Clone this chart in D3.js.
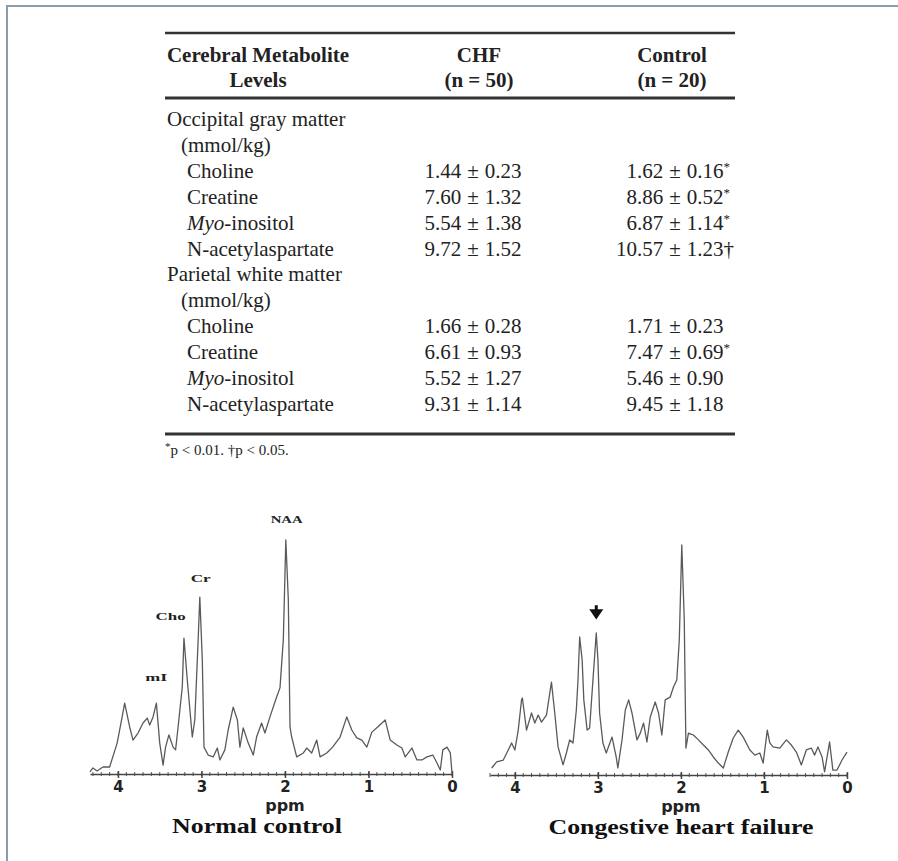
<!DOCTYPE html>
<html>
<head>
<meta charset="utf-8">
<script src="https://cdn.jsdelivr.net/npm/d3@7"></script>
<style>
  html, body { margin: 0; padding: 0; background: #fff; }
  svg { display: block; }
</style>
</head>
<body>
<svg id="chart" width="898" height="861"></svg>
<script>
// ---------------- Table data ----------------
const headLabel = ["Cerebral Metabolite", "Levels"];
const groups = ["CHF", "Control"];
const groupN = ["(n = 50)", "(n = 20)"];
const regions = ["Occipital gray matter", "Parietal white matter"];
const regionUnit = "(mmol/kg)";
const metabolites = ["Choline", "Creatine", "Myo-inositol", "N-acetylaspartate"];

const occChfMean = ["1.44", "7.60", "5.54", "9.72"];
const occChfSD   = ["0.23", "1.32", "1.38", "1.52"];
const occCtlMean = ["1.62", "8.86", "6.87", "10.57"];
const occCtlSD   = ["0.16", "0.52", "1.14", "1.23"];
const occCtlSig  = ["*", "*", "*", "†"];

const parChfMean = ["1.66", "6.61", "5.52", "9.31"];
const parChfSD   = ["0.28", "0.93", "1.27", "1.14"];
const parCtlMean = ["1.71", "7.47", "5.46", "9.45"];
const parCtlSD   = ["0.23", "0.69", "0.90", "1.18"];
const parCtlSig  = ["", "*", "", ""];

const footnote = ["*", "p < 0.01. †p < 0.05."];

// ---------------- Spectra data (ppm, arbitrary intensity) ----------------
const normalPpm = [4.335,4.30,4.25,4.18,4.10,4.01,3.95,3.92,3.86,3.82,3.76,3.70,3.65,3.62,3.58,3.54,3.50,3.46,3.43,3.39,3.34,3.31,3.28,3.23,3.21,3.17,3.11,3.08,3.04,3.02,2.99,2.97,2.92,2.86,2.81,2.78,2.72,2.68,2.62,2.57,2.54,2.50,2.44,2.38,2.34,2.28,2.24,2.18,2.10,2.06,2.02,1.99,1.96,1.94,1.92,1.86,1.78,1.74,1.68,1.62,1.58,1.50,1.43,1.34,1.26,1.20,1.14,1.08,1.02,0.96,0.89,0.80,0.74,0.66,0.60,0.56,0.48,0.42,0.36,0.30,0.23,0.18,0.14,0.11,0.06,0.02,0.00];
const normalInt = [0.9,2.6,1.3,3.0,3.0,13.2,24.4,30.3,20.1,14.5,17.5,21.8,23.9,20.9,24.4,30.3,13.2,3.8,11.5,16.7,11.5,10.3,20.1,37.2,58.1,40.2,15.8,23.1,57.3,75.6,48.7,11.5,8.1,7.3,11.1,6.0,10.3,18.8,28.6,23.1,11.5,19.7,13.2,8.1,15.8,21.8,17.5,24.4,32.9,36.8,57.3,100,74.4,20.1,15.8,7.3,9.0,11.1,9.0,14.5,7.3,9.0,11.5,15.8,24.4,18.8,15.4,14.5,11.5,17.9,20.1,23.1,14.5,12.4,11.1,7.3,11.1,6.0,6.0,7.3,8.1,4.7,1.7,10.3,11.5,9.0,0.4];

const chfPpm = [4.28,4.22,4.14,4.08,4.04,4.00,3.96,3.92,3.91,3.86,3.80,3.76,3.72,3.68,3.62,3.58,3.56,3.52,3.48,3.42,3.38,3.34,3.30,3.26,3.24,3.22,3.19,3.17,3.13,3.10,3.06,3.02,3.00,2.98,2.94,2.90,2.83,2.78,2.76,2.71,2.67,2.63,2.59,2.53,2.49,2.45,2.41,2.37,2.31,2.27,2.23,2.19,2.13,2.09,2.05,2.02,1.99,1.96,1.95,1.94,1.91,1.85,1.79,1.73,1.67,1.61,1.55,1.49,1.43,1.37,1.31,1.25,1.17,1.11,1.05,1.01,0.96,0.93,0.89,0.81,0.73,0.67,0.61,0.55,0.49,0.43,0.39,0.35,0.30,0.27,0.21,0.17,0.12,0.06,0.00];
const chfInt = [3.0,5.6,6.4,10.7,13.7,10.7,19.2,32.1,32.9,19.2,26.5,22.2,25.6,22.6,25.6,35.0,39.7,26.5,12.0,4.3,9.4,15.0,13.7,27.8,40.6,59.0,49.1,32.1,19.2,20.1,40.6,60.7,49.1,26.5,13.7,9.4,16.2,7.7,3.0,15.0,27.8,32.1,26.5,15.0,17.9,22.2,14.1,24.8,31.2,26.5,17.1,32.1,33.3,37.6,40.6,57.7,98.3,66.2,37.6,11.5,17.9,17.1,15.0,12.8,10.7,7.7,5.1,3.0,9.8,15.8,19.2,16.2,10.7,8.5,9.4,5.1,19.2,13.7,12.0,11.5,15.0,12.8,9.8,4.3,10.7,11.5,8.5,12.0,7.7,1.3,14.1,2.1,2.1,6.4,9.8];

const majorTicks = [4, 3, 2, 1, 0];
const axisTitle = "ppm";
const panelTitles = ["Normal control", "Congestive heart failure"];
const peakLabels = ["NAA", "Cr", "Cho", "mI"];
const peakLabelPpm = [1.98, 3.01, 3.37, 3.54];
const peakLabelInt = [107.3, 82.0, 65.8, 39.7];
const arrowPpm = 3.02;
const arrowTopInt = 72.5;
const arrowTipInt = 66.5;

// ---------------- Drawing ----------------
const svg = d3.select("#chart");
const serif = "'Liberation Serif', 'Times New Roman', serif";
const sans = "'DejaVu Sans', sans-serif";

// frame
svg.append("line").attr("x1", 7).attr("x2", 7).attr("y1", 6).attr("y2", 861)
  .attr("stroke", "#8b9dac").attr("stroke-width", 2);
svg.append("line").attr("x1", 6).attr("x2", 898).attr("y1", 6).attr("y2", 6)
  .attr("stroke", "#8b9dac").attr("stroke-width", 2);

// ---- table ----
const T = svg.append("g");
const tL = 165, tR = 735;
const fs = 21;
const ink = "#222";
function rule(y, w) {
  T.append("line").attr("x1", tL).attr("x2", tR).attr("y1", y).attr("y2", y)
    .attr("stroke", "#333").attr("stroke-width", w);
}
rule(33, 2.5);
rule(98, 3);
rule(434, 3);

const hx = [258, 479, 672];
const hy = [62, 87];
T.append("text").attr("x", hx[0]).attr("y", hy[0]).text(headLabel[0]);
T.append("text").attr("x", hx[0]).attr("y", hy[1]).text(headLabel[1]);
groups.forEach((g, i) => {
  T.append("text").attr("x", hx[i + 1]).attr("y", hy[0]).text(g);
  T.append("text").attr("x", hx[i + 1]).attr("y", hy[1]).text(groupN[i]);
});
T.selectAll("text").attr("text-anchor", "middle").attr("font-family", serif)
  .attr("font-weight", "bold").attr("font-size", fs).attr("fill", ink);

const B = svg.append("g").attr("font-family", serif).attr("font-size", fs).attr("fill", ink);
const y0 = 126, lh = 25.9;
const pmX = [473, 675];
const gap = 11.8;

function metName(y, name) {
  const t = B.append("text").attr("x", 187).attr("y", y);
  if (name.startsWith("Myo")) {
    t.append("tspan").attr("font-style", "italic").text("Myo");
    t.append("tspan").text(name.slice(3));
  } else t.text(name);
}
function val(y, col, mean, sd, sig) {
  B.append("text").attr("x", pmX[col] - gap).attr("y", y).attr("text-anchor", "end").text(mean);
  B.append("text").attr("x", pmX[col]).attr("y", y).attr("text-anchor", "middle").text("±");
  const t = B.append("text").attr("x", pmX[col] + gap).attr("y", y).attr("text-anchor", "start");
  t.append("tspan").text(sd);
  if (sig === "*") t.append("tspan").attr("font-size", 13).attr("dy", -7).text("*");
  else if (sig) t.append("tspan").text(sig);
}
const sets = [
  [occChfMean, occChfSD, occCtlMean, occCtlSD, occCtlSig],
  [parChfMean, parChfSD, parCtlMean, parCtlSD, parCtlSig]
];
regions.forEach((r, ri) => {
  const base = y0 + ri * 6 * lh;
  B.append("text").attr("x", 167).attr("y", base).text(r);
  B.append("text").attr("x", 181).attr("y", base + lh).text(regionUnit);
  const [cm, cs, km, ks, kg] = sets[ri];
  metabolites.forEach((m, mi) => {
    const y = base + (mi + 2) * lh;
    metName(y, m);
    val(y, 0, cm[mi], cs[mi], "");
    val(y, 1, km[mi], ks[mi], kg[mi]);
  });
});
const fn = B.append("text").attr("x", 165).attr("y", 455).attr("font-size", 15);
fn.append("tspan").attr("font-size", 11).attr("dy", -5).text(footnote[0]);
fn.append("tspan").attr("dy", 5).text(footnote[1]);

// ---- spectra ----
const panels = [
  { ppm: normalPpm, inten: normalInt, xd: [4.335, 0], xr: [90, 452], base: 774, top: 540, cx: 257, title: panelTitles[0], titleLen: 170, labels: true },
  { ppm: chfPpm, inten: chfInt, xd: [4.3, 0], xr: [490, 847], base: 775, top: 541, cx: 681, title: panelTitles[1], titleLen: 265, labels: false }
];

panels.forEach(p => {
  const x = d3.scaleLinear().domain(p.xd).range(p.xr);
  const y = d3.scaleLinear().domain([0, 100]).range([p.base, p.top]);
  const g = svg.append("g");

  // minor ticks
  const minor = d3.range(0, Math.floor(p.xd[0] * 10) + 1).map(d => d / 10);
  g.append("g").selectAll("line").data(minor).join("line")
    .attr("x1", d => x(d)).attr("x2", d => x(d))
    .attr("y1", p.base - 2).attr("y2", p.base + 2)
    .attr("stroke", "#555").attr("stroke-width", 1);

  const ax = g.append("g").attr("transform", `translate(0,${p.base})`)
    .call(d3.axisBottom(x).tickValues(majorTicks).tickFormat(d3.format("d")).tickSize(4).tickSizeOuter(0));
  ax.select(".domain").attr("stroke", "#444").attr("stroke-width", 1.6);
  ax.selectAll(".tick line").attr("stroke", "#444").attr("stroke-width", 1.5).attr("y1", -3);
  ax.selectAll(".tick text").attr("y", 18).attr("dy", 0)
    .attr("font-family", sans).attr("font-weight", "bold").attr("font-size", 15).attr("fill", "#222");

  g.append("text").attr("x", x(2)).attr("y", p.base + 37).attr("text-anchor", "middle")
    .attr("font-family", sans).attr("font-weight", "bold").attr("font-size", 16).attr("fill", "#222")
    .text(axisTitle);

  g.append("text").attr("x", p.cx).attr("y", p.base + 59).attr("text-anchor", "middle")
    .attr("font-family", serif).attr("font-weight", "bold").attr("font-size", 20).attr("fill", "#111")
    .attr("textLength", p.titleLen).attr("lengthAdjust", "spacingAndGlyphs")
    .text(p.title);

  const pts = p.ppm.map((d, i) => [d, p.inten[i]]);
  g.append("path").datum(pts)
    .attr("d", d3.line().x(d => x(d[0])).y(d => y(d[1])))
    .attr("fill", "none").attr("stroke", "#5a5a5a").attr("stroke-width", 1.3)
    .attr("stroke-linejoin", "round");

  if (p.labels) {
    const lens = [32, 20, 30, 22];
    peakLabels.forEach((l, i) => {
      g.append("text").attr("x", x(peakLabelPpm[i])).attr("y", y(peakLabelInt[i]))
        .attr("text-anchor", "middle").attr("font-family", serif).attr("font-weight", "bold")
        .attr("font-size", 11).attr("fill", "#222")
        .attr("textLength", lens[i]).attr("lengthAdjust", "spacingAndGlyphs").text(l);
    });
  } else {
    const ax0 = x(arrowPpm), yt = y(arrowTopInt), yp = y(arrowTipInt);
    g.append("path")
      .attr("d", `M${ax0 - 1.5},${yt} L${ax0 + 1.5},${yt} L${ax0 + 1.5},${yt + 4} L${ax0 + 7},${yt + 4} L${ax0},${yp} L${ax0 - 7},${yt + 4} L${ax0 - 1.5},${yt + 4} Z`)
      .attr("fill", "#111");
  }
});
</script>
</body>
</html>
